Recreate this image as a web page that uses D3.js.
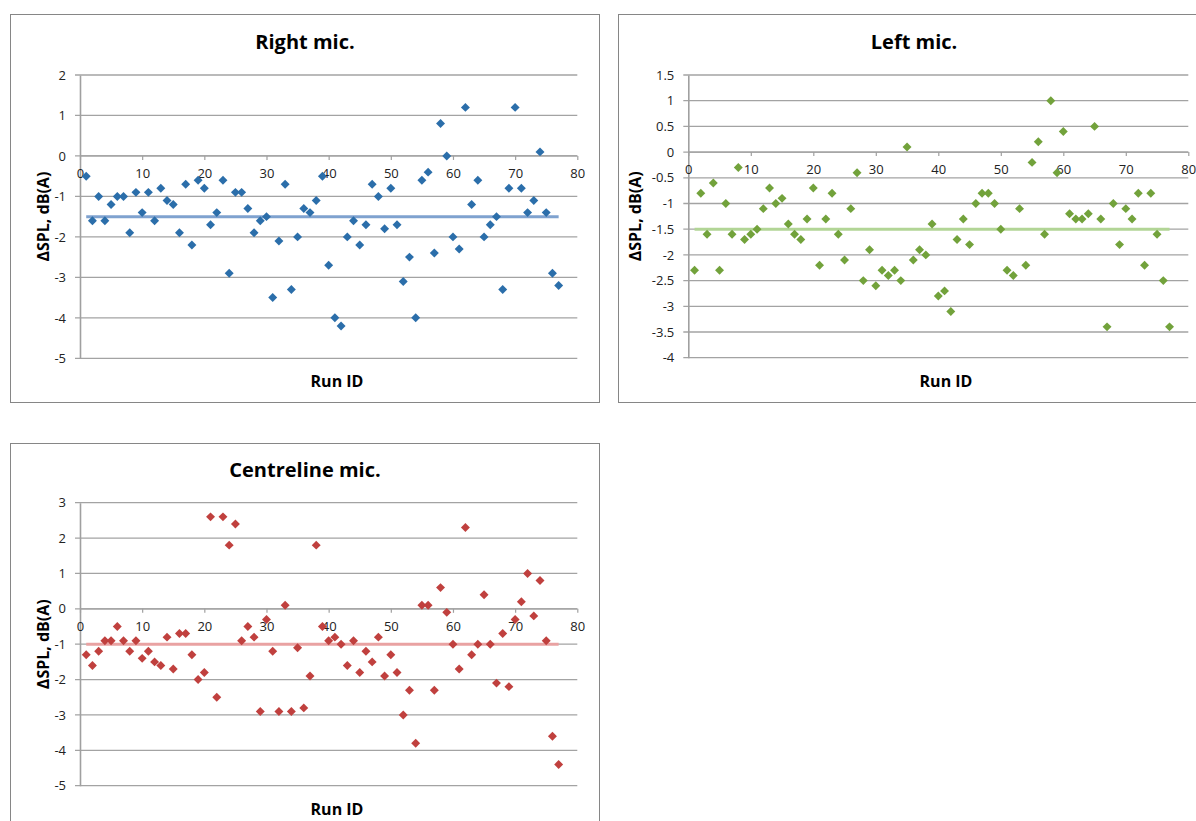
<!DOCTYPE html>
<html>
<head>
<meta charset="utf-8">
<script src="https://cdn.jsdelivr.net/npm/d3@7"></script>
<style>
  html, body { margin: 0; padding: 0; background: #fff; }
  svg { display: block; font-family: "Open Sans", "Liberation Sans", sans-serif; }
</style>
</head>
<body>
<svg id="chart" width="1196" height="821"></svg>
<script>
// ---------- data ----------
const runIds = d3.range(1, 78);

const rightMic = [
  -0.5,-1.6,-1.0,-1.6,-1.2,-1.0,-1.0,-1.9,-0.9,-1.4,
  -0.9,-1.6,-0.8,-1.1,-1.2,-1.9,-0.7,-2.2,-0.6,-0.8,
  -1.7,-1.4,-0.6,-2.9,-0.9,-0.9,-1.3,-1.9,-1.6,-1.5,
  -3.5,-2.1,-0.7,-3.3,-2.0,-1.3,-1.4,-1.1,-0.5,-2.7,
  -4.0,-4.2,-2.0,-1.6,-2.2,-1.7,-0.7,-1.0,-1.8,-0.8,
  -1.7,-3.1,-2.5,-4.0,-0.6,-0.4,-2.4,0.8,0.0,-2.0,
  -2.3,1.2,-1.2,-0.6,-2.0,-1.7,-1.5,-3.3,-0.8,1.2,
  -0.8,-1.4,-1.1,0.1,-1.4,-2.9,-3.2
];
const leftMic = [
  -2.3,-0.8,-1.6,-0.6,-2.3,-1.0,-1.6,-0.3,-1.7,-1.6,
  -1.5,-1.1,-0.7,-1.0,-0.9,-1.4,-1.6,-1.7,-1.3,-0.7,
  -2.2,-1.3,-0.8,-1.6,-2.1,-1.1,-0.4,-2.5,-1.9,-2.6,
  -2.3,-2.4,-2.3,-2.5,0.1,-2.1,-1.9,-2.0,-1.4,-2.8,
  -2.7,-3.1,-1.7,-1.3,-1.8,-1.0,-0.8,-0.8,-1.0,-1.5,
  -2.3,-2.4,-1.1,-2.2,-0.2,0.2,-1.6,1.0,-0.4,0.4,
  -1.2,-1.3,-1.3,-1.2,0.5,-1.3,-3.4,-1.0,-1.8,-1.1,
  -1.3,-0.8,-2.2,-0.8,-1.6,-2.5,-3.4
];
const centreMic = [
  -1.3,-1.6,-1.2,-0.9,-0.9,-0.5,-0.9,-1.2,-0.9,-1.4,
  -1.2,-1.5,-1.6,-0.8,-1.7,-0.7,-0.7,-1.3,-2.0,-1.8,
  2.6,-2.5,2.6,1.8,2.4,-0.9,-0.5,-0.8,-2.9,-0.3,
  -1.2,-2.9,0.1,-2.9,-1.1,-2.8,-1.9,1.8,-0.5,-0.9,
  -0.8,-1.0,-1.6,-0.9,-1.8,-1.2,-1.5,-0.8,-1.9,-1.3,
  -1.8,-3.0,-2.3,-3.8,0.1,0.1,-2.3,0.6,-0.1,-1.0,
  -1.7,2.3,-1.3,-1.0,0.4,-1.0,-2.1,-0.7,-2.2,-0.3,
  0.2,1.0,-0.2,0.8,-0.9,-3.6,-4.4
];

const meanRight = -1.5;
const meanLeft = -1.5;
const meanCentre = -1.0;
const meanRange = [1, 77];

const xTicks = [0, 10, 20, 30, 40, 50, 60, 70, 80];
const yTicksRight = [2, 1, 0, -1, -2, -3, -4, -5];
const yTicksLeft = [1.5, 1, 0.5, 0, -0.5, -1, -1.5, -2, -2.5, -3, -3.5, -4];
const yTicksCentre = [3, 2, 1, 0, -1, -2, -3, -4, -5];

const titles = ["Right mic.", "Left mic.", "Centreline mic."];
const yTitle = "\u0394SPL, dB(A)";
const xTitle = "Run ID";

// ---------- layout ----------
const charts = [
  { title: titles[0], values: rightMic, mean: meanRight, yTicks: yTicksRight,
    box: [10, 14, 599, 402], px: [80, 577.3], py: [358.3, 75],
    titleX: 305, titleY: 48.5, yTitleX: 43, xTitleX: 337, xTitleY: 387,
    color: "#2b6eaa", meanColor: "#7fa2cf" },
  { title: titles[1], values: leftMic, mean: meanLeft, yTicks: yTicksLeft,
    box: [618, 14, 1212, 402], px: [688.3, 1188.3], py: [357.7, 75],
    titleX: 914, titleY: 48.5, yTitleX: 635, xTitleX: 946, xTitleY: 387,
    color: "#72a23b", meanColor: "#b2d596" },
  { title: titles[2], values: centreMic, mean: meanCentre, yTicks: yTicksCentre,
    box: [10, 443, 599, 840], px: [80, 577.3], py: [785.7, 502.7],
    titleX: 305, titleY: 477, yTitleX: 43, xTitleX: 337, xTitleY: 815,
    color: "#c0403e", meanColor: "#e9a2a2" }
];

const svg = d3.select("#chart");
const gridColor = "#a3a3a3";
const axisColor = "#a0a0a0";

const diamond = {
  draw(ctx, size) {
    const r = Math.sqrt(size / 2);
    ctx.moveTo(0, -r); ctx.lineTo(r, 0); ctx.lineTo(0, r); ctx.lineTo(-r, 0); ctx.closePath();
  }
};

charts.forEach(c => {
  const g = svg.append("g");
  const [bx0, by0, bx1, by1] = c.box;
  g.append("rect").attr("x", bx0 + 0.5).attr("y", by0 + 0.5)
    .attr("width", bx1 - bx0).attr("height", by1 - by0)
    .attr("fill", "#fff").attr("stroke", "#868686").attr("stroke-width", 1);

  const yExt = d3.extent(c.yTicks);
  const x = d3.scaleLinear().domain([0, 80]).range(c.px);
  const y = d3.scaleLinear().domain(yExt).range(c.py);

  // horizontal gridlines + y ticks
  g.append("g").selectAll("line").data(c.yTicks).join("line")
    .attr("x1", c.px[0] - 5).attr("x2", c.px[1])
    .attr("y1", d => y(d)).attr("y2", d => y(d))
    .attr("stroke", gridColor).attr("stroke-width", 1.3);

  // y axis using d3.axisLeft
  const yAxis = d3.axisLeft(y).tickValues(c.yTicks).tickSize(0).tickPadding(14)
    .tickFormat(d => String(d));
  const ya = g.append("g").attr("transform", `translate(${c.px[0]},0)`).call(yAxis);
  ya.select(".domain").attr("stroke", axisColor).attr("stroke-width", 1.6);
  ya.selectAll("text").attr("font-size", 13).attr("fill", "#222")
    .attr("font-family", "'Open Sans', sans-serif");

  // x axis crossing at y = 0
  const xAxis = d3.axisBottom(x).tickValues(xTicks).tickSize(4).tickPadding(9)
    .tickFormat(d => String(d));
  const xa = g.append("g").attr("transform", `translate(0,${y(0)})`).call(xAxis);
  xa.select(".domain").attr("stroke", axisColor).attr("stroke-width", 1.3)
    .attr("d", `M${c.px[0]},0H${c.px[1]}`);
  xa.selectAll(".tick line").attr("stroke", axisColor).attr("stroke-width", 1.2);
  xa.selectAll("text").attr("font-size", 13).attr("fill", "#222")
    .attr("font-family", "'Open Sans', sans-serif");

  // mean line
  g.append("line")
    .attr("x1", x(meanRange[0])).attr("x2", x(meanRange[1]))
    .attr("y1", y(c.mean)).attr("y2", y(c.mean))
    .attr("stroke", c.meanColor).attr("stroke-width", 3);

  // points
  g.append("g").selectAll("path").data(c.values).join("path")
    .attr("d", d3.symbol().type(diamond).size(40))
    .attr("transform", (d, i) => `translate(${x(runIds[i])},${y(d)})`)
    .attr("fill", c.color);

  // titles
  g.append("text").attr("x", c.titleX).attr("y", c.titleY)
    .attr("text-anchor", "middle").attr("font-size", 20).attr("font-weight", "bold")
    .attr("fill", "#000").text(c.title);

  g.append("text").attr("x", c.xTitleX).attr("y", c.xTitleY)
    .attr("text-anchor", "middle").attr("font-size", 16).attr("font-weight", "bold")
    .attr("fill", "#000").text(xTitle);

  const ymid = (c.py[0] + c.py[1]) / 2;
  g.append("text")
    .attr("transform", `translate(${c.yTitleX + 6},${ymid}) rotate(-90)`)
    .attr("text-anchor", "middle").attr("font-size", 16).attr("font-weight", "bold")
    .attr("fill", "#000").text(yTitle);
});
</script>
</body>
</html>
